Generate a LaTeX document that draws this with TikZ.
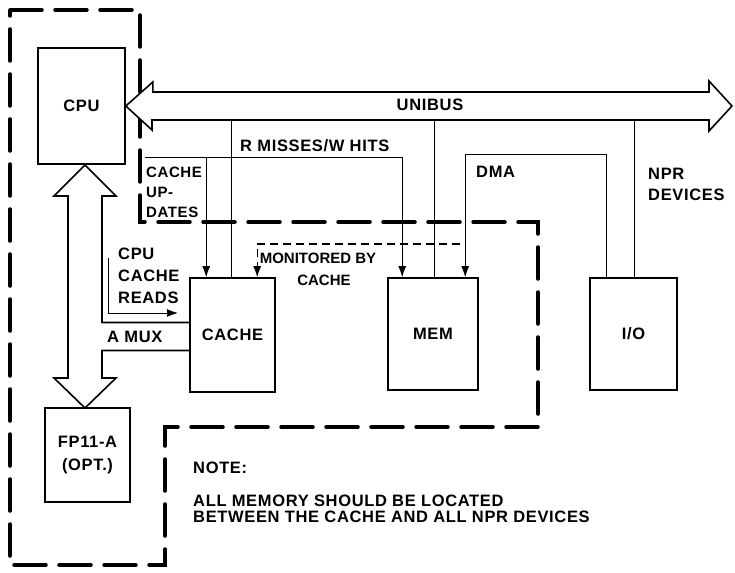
\documentclass[tikz,border=0pt]{standalone}
\usepackage{fontspec}
\setmainfont{Liberation Sans}[LetterSpace=4]
\usetikzlibrary{calc,positioning,arrows.meta}

\tikzset{
  unit/.style={draw, line width=1.6pt, inner sep=0pt, font=\lblfont},
  conn/.style={line width=1pt, -{Latex[length=11pt,width=8pt]}},
  wire/.style={line width=1pt},
  bound/.style={line width=3.5pt, dash pattern=on 32pt off 13pt, line cap=round},
  mon/.style={line width=1.2pt, dash pattern=on 8pt off 5pt},
  lbl/.style={font=\lblfont, inner sep=0pt, align=left, anchor=west},
}
\newcommand{\lblfont}{\fontsize{16.5}{21}\selectfont\bfseries}

\begin{document}
\begin{tikzpicture}[x=1pt, y=-1pt]
    \useasboundingbox (0,0) rectangle (735,572);

    % Cache boundary
    \draw[bound] (10,10) -- (140,10) -- (140,222) -- (538,222) -- (538,427)
        -- (165,427) -- (165,565) -- (10,565) -- cycle;

    % Units
    \node[unit, minimum width=87pt, minimum height=116pt] (cpu) at (81.5,106) {CPU};
    \node[unit, minimum width=85pt, minimum height=114pt] (cache) at (232.5,335) {CACHE};
    \node[unit, minimum width=90pt, minimum height=112pt] (mem) at (433,334) {MEM};
    \node[unit, minimum width=87pt, minimum height=112pt] (io) at (633.5,334) {I/O};
    \node[unit, minimum width=85pt, minimum height=94pt, align=center, font=\fontsize{16.5}{23}\selectfont\bfseries] (fp) at (87.5,455) {FP11-A\\(OPT.)};

    % Unibus
    \draw[line width=1.6pt, fill=white] (cpu.east) -- ++(27,-24) -- ++(0,10) -- (709,92)
        -- (709,81) -- (732,106) -- (709,131) -- (709,120) -- (152,120) -- (152,130) -- cycle;
    \node[font=\lblfont, inner sep=0pt] (bus) at (430,105) {UNIBUS};

    % CPU <-> FP11 path with A MUX branch
    \draw[line width=1.6pt] ($(cache.west)+(0,15.5)$) -- (102,350.5) -- (102,378) -- (116,378)
        -- (85,408) -- (54,378) -- (68,378) -- (68,196) -- (54,196) -- (85,165)
        -- (116,196) -- (102,196) -- (102,322.5) -- ($(cache.west)+(0,-12.5)$);

    % Attachment points
    \coordinate (c1) at ($(cache.north west)+(17,0)$);
    \coordinate (c2) at ($(cache.north west)+(42,0)$);
    \coordinate (c3) at ($(cache.north west)+(68,0)$);
    \coordinate (m1) at ($(mem.north west)+(15,0)$);
    \coordinate (m2) at ($(mem.north west)+(47,0)$);
    \coordinate (m3) at ($(mem.north west)+(78,0)$);
    \coordinate (i1) at ($(io.north west)+(17,0)$);
    \coordinate (i2) at ($(io.north west)+(45,0)$);
    \coordinate (busb) at (0,120);
    \coordinate (rw) at (145,158);
    \coordinate (dma) at (0,155);
    \coordinate (monend) at (460,244);
    \coordinate (rdtop) at (108,258);
    \coordinate (rdend) at (178,313);

    % Connections
    \draw[conn] (rw) -| (m1);
    \draw[conn] (rw -| c1) -- (c1);
    \draw[wire] (busb -| c2) -- (c2);
    \draw[wire] (busb -| m2) -- (m2);
    \draw[wire] (busb -| i2) -- (i2);
    \draw[conn] (i1) |- (dma -| m3) -- (m3);
    \draw[conn, mon] (monend) -| (c3);
    \draw[conn] (rdtop) |- (rdend);

    % Labels
    \node[lbl] (rwl) at (240,146) {R MISSES/W HITS};
    \node[lbl, font=\fontsize{15}{20}\selectfont\bfseries] (upd) at (146,192) {CACHE\\UP-\\DATES};
    \node[lbl] (dmal) at (476,172) {DMA};
    \node[lbl] (nprl) at (648,184) {NPR\\DEVICES};
    \node[lbl, font=\fontsize{16.5}{22}\selectfont\bfseries] (rdl) at (118,276) {CPU\\CACHE\\READS};
    \node[lbl, align=center, anchor=center, font=\fontsize{15}{22}\selectfont\bfseries\addfontfeatures{LetterSpace=0}] (monl) at (318,269) {MONITORED BY\\\hspace{12pt}CACHE};
    \node[lbl] (amux) at (107,337) {A MUX};
    \node[lbl] (note) at (193,468) {NOTE:};
    \node[lbl, font=\fontsize{16.5}{16}\selectfont\bfseries] (notel) at (193,509)
        {ALL MEMORY SHOULD BE LOCATED\\BETWEEN THE CACHE AND ALL NPR DEVICES};
\end{tikzpicture}
\end{document}
